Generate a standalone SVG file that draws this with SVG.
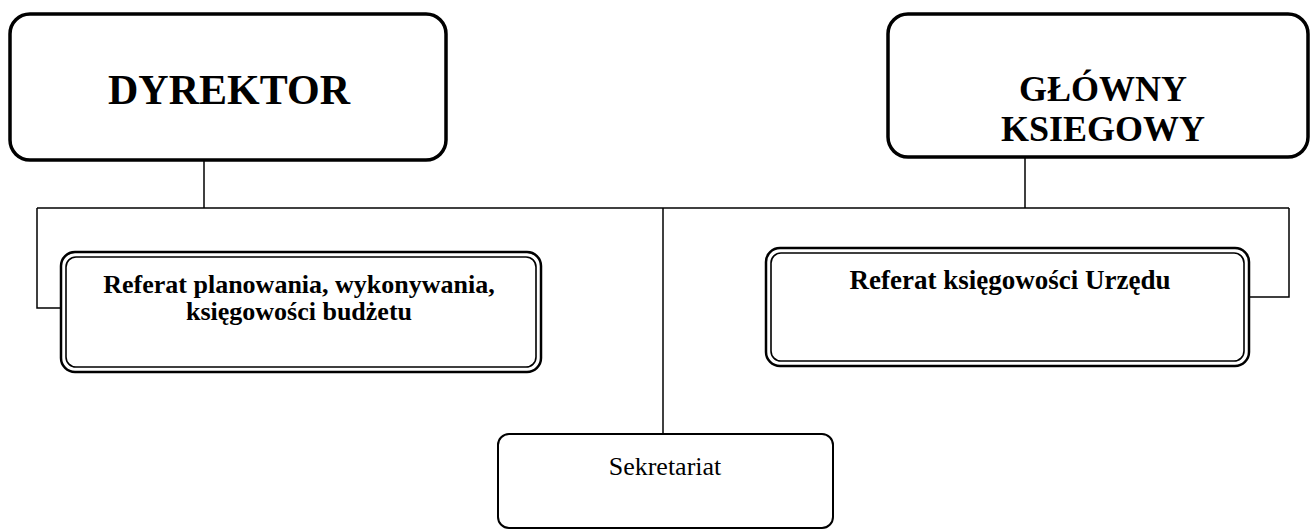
<svg xmlns="http://www.w3.org/2000/svg" width="1310" height="530" viewBox="0 0 1310 530">
  <style>
    .bg { fill: #ffffff; }
    .head { fill: #ffffff; stroke: #000000; stroke-width: 3.5; }
    .dbl-out { fill: #ffffff; stroke: #000000; stroke-width: 2.5; }
    .dbl-in { fill: none; stroke: #000000; stroke-width: 1.6; }
    .plain { fill: #ffffff; stroke: #000000; stroke-width: 2; }
    .wire { fill: none; stroke: #000000; stroke-width: 1.5; }
    .t { font-family: "Liberation Serif", "Times New Roman", serif; fill: #000000; text-anchor: middle; }
    .tb { font-weight: bold; }
  </style>
  <rect class="bg" x="0" y="0" width="1310" height="530"/>

  <!-- connectors -->
  <g id="connectors">
    <line class="wire" x1="204" y1="160" x2="204" y2="208"/>
    <line class="wire" x1="1025" y1="157" x2="1025" y2="208"/>
    <line class="wire" x1="37" y1="208" x2="1289" y2="208"/>
    <polyline class="wire" points="37,208 37,308 61,308"/>
    <polyline class="wire" points="1289,208 1289,297 1249,297"/>
    <line class="wire" x1="663" y1="208" x2="663" y2="434"/>
  </g>

  <!-- DYREKTOR -->
  <g id="dyrektor">
    <rect class="head" x="10" y="14" width="436" height="146" rx="20" ry="20"/>
    <text class="t tb" x="229" y="104" font-size="42">DYREKTOR</text>
  </g>

  <!-- GŁÓWNY KSIEGOWY -->
  <g id="glowny-ksiegowy">
    <rect class="head" x="888" y="14" width="420" height="143" rx="20" ry="20"/>
    <text class="t tb" x="1103" y="101" font-size="36">GŁÓWNY</text>
    <text class="t tb" x="1103" y="141" font-size="36">KSIEGOWY</text>
  </g>

  <!-- Referat planowania, wykonywania, księgowości budżetu -->
  <g id="referat-budzetu">
    <rect class="dbl-out" x="61" y="252" width="480" height="120" rx="14" ry="14"/>
    <rect class="dbl-in" x="66" y="257" width="470" height="110" rx="10" ry="10"/>
    <text class="t tb" x="299" y="293" font-size="26">Referat planowania, wykonywania,</text>
    <text class="t tb" x="299" y="320" font-size="26">księgowości budżetu</text>
  </g>

  <!-- Referat księgowości Urzędu -->
  <g id="referat-urzedu">
    <rect class="dbl-out" x="766" y="248" width="483" height="118" rx="14" ry="14"/>
    <rect class="dbl-in" x="771" y="253" width="473" height="108" rx="10" ry="10"/>
    <text class="t tb" x="1010" y="289" font-size="27">Referat księgowości Urzędu</text>
  </g>

  <!-- Sekretariat -->
  <g id="sekretariat">
    <rect class="plain" x="498" y="434" width="335" height="94" rx="11" ry="11"/>
    <text class="t" x="665" y="475" font-size="26">Sekretariat</text>
  </g>
</svg>
